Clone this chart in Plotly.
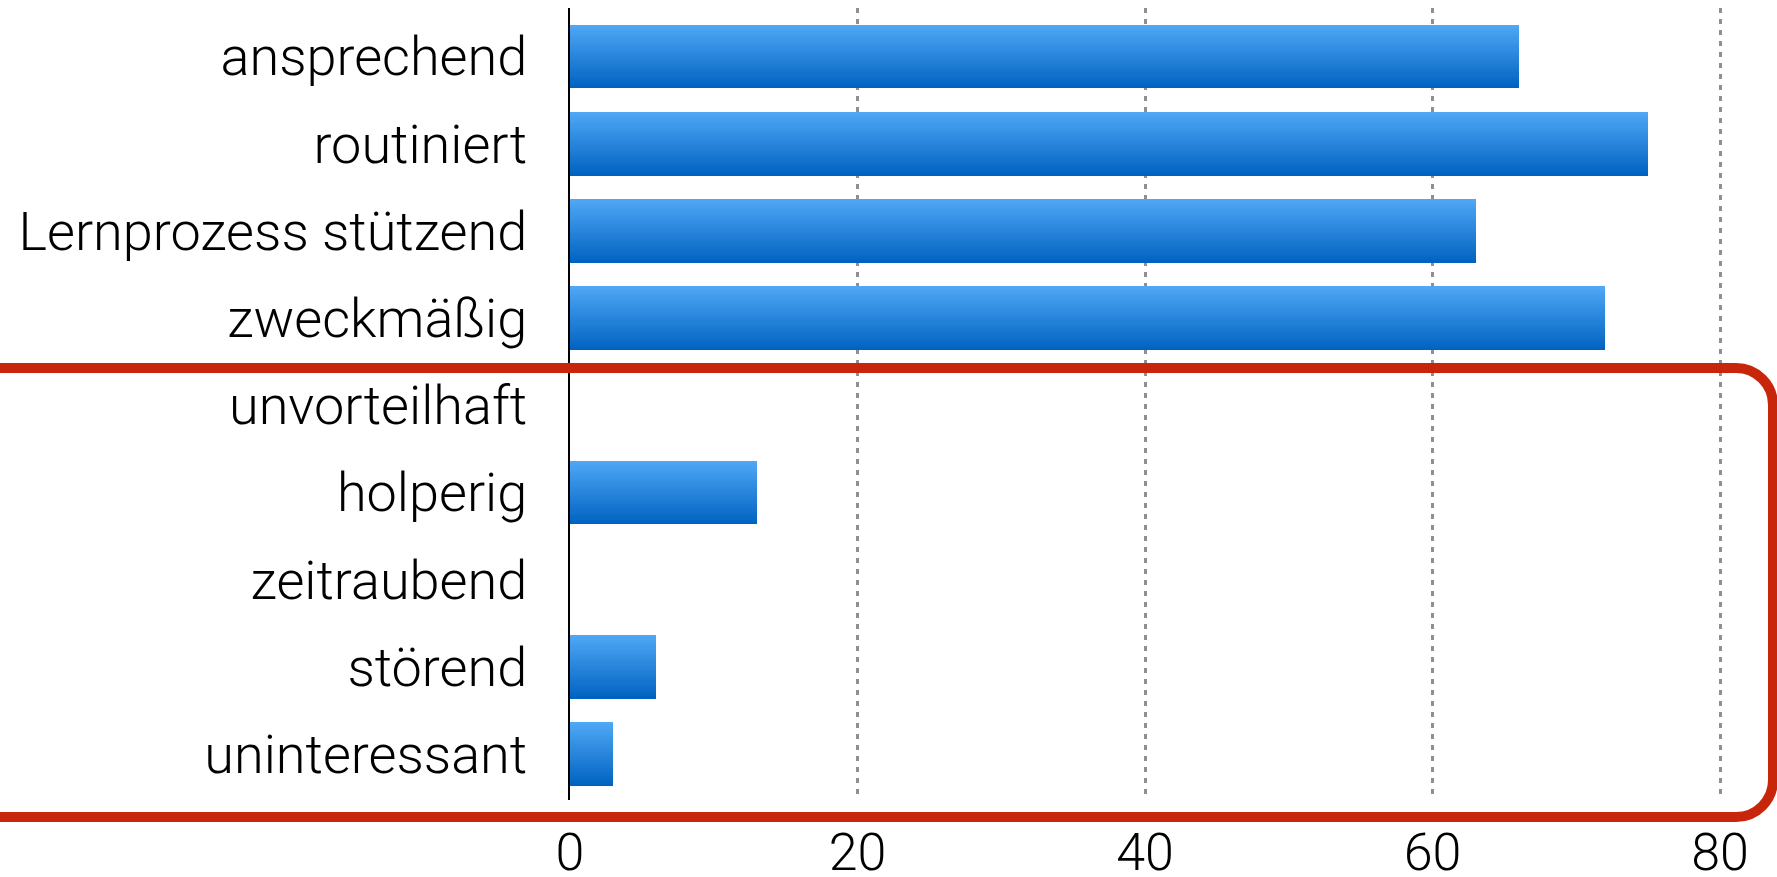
import plotly.graph_objects as go

categories = ["ansprechend", "routiniert", "Lernprozess stützend", "zweckmäßig",
              "unvorteilhaft", "holperig", "zeitraubend", "störend", "uninteressant"]
values = [66, 75, 63, 72, 0, 13, 0, 6, 3]
x_ticks = [0, 20, 40, 60, 80]

W, H = 1777, 877
L, R, T, B = 570, 17, 8, 77
PW, PH = W - L - R, H - T - B

top_rgb = (80, 168, 246)
bot_rgb = (0, 98, 192)
bar_w = 0.73
N = 28
step = bar_w / N

fig = go.Figure()
for i in range(N):
    f = (i + 0.5) / N
    c = tuple(round(top_rgb[k] + (bot_rgb[k] - top_rgb[k]) * f) for k in range(3))
    fig.add_trace(go.Bar(
        y=categories, x=values, orientation="h",
        offset=-bar_w / 2 + i * step,
        width=step * 1.15 if i < N - 1 else step,
        marker=dict(color="rgb(%d,%d,%d)" % c, line=dict(width=0)),
        showlegend=False, hoverinfo="skip",
    ))

def px(x):
    return (x - L) / PW

def py(y):
    return 1 - (y - T) / PH

# red rounded frame
xr, yt, yb, rad = 1773, 368, 817, 37
k = 0.5523 * rad
path = (
    f"M {px(-40)},{py(yt)} "
    f"L {px(xr - rad)},{py(yt)} "
    f"C {px(xr - rad + k)},{py(yt)} {px(xr)},{py(yt + rad - k)} {px(xr)},{py(yt + rad)} "
    f"L {px(xr)},{py(yb - rad)} "
    f"C {px(xr)},{py(yb - rad + k)} {px(xr - rad + k)},{py(yb)} {px(xr - rad)},{py(yb)} "
    f"L {px(-40)},{py(yb)}"
)
fig.add_shape(type="path", path=path, xref="paper", yref="paper",
              line=dict(color="#C8260A", width=10), layer="above")

font_family = "Roboto"
fig.update_layout(
    width=W, height=H,
    margin=dict(l=L, r=R, t=T, b=B, pad=0, autoexpand=False),
    paper_bgcolor="white", plot_bgcolor="white",
    barmode="overlay", bargap=0,
    font=dict(family=font_family, color="black", weight=300),
    xaxis=dict(
        range=[0, PW / 14.375], tickvals=x_ticks, ticktext=[str(v) for v in x_ticks],
        showgrid=True, gridcolor="#8f8f8f", gridwidth=2.5, griddash="5px,6px",
        zeroline=False, showline=False, ticks="", automargin=False,
        tickfont=dict(size=52, family=font_family, weight=300, color="black"),
        ticklabelstandoff=17,
    ),
    yaxis=dict(
        type="category", categoryorder="array", categoryarray=categories,
        range=[8.527, -0.556], automargin=False,
        showgrid=False, zeroline=False,
        showline=True, linecolor="black", linewidth=2, ticks="",
        tickfont=dict(size=54, family=font_family, weight=300, color="black"),
        ticklabelstandoff=30,
    ),
)

fig.write_html("out.html")
